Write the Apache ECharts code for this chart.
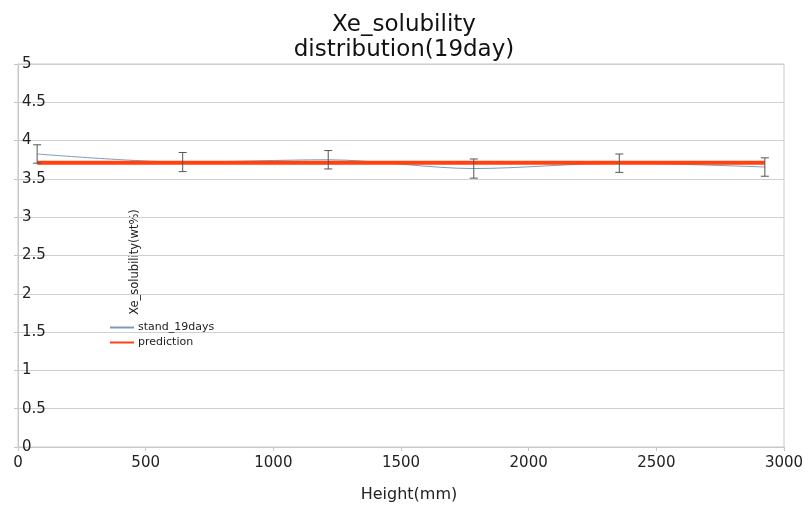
<!DOCTYPE html>
<html>
<head>
<meta charset="utf-8">
<script src="https://cdn.jsdelivr.net/npm/echarts@6/dist/echarts.min.js"></script>
<style>
  html, body { margin: 0; padding: 0; background: #fff; }
  #chart { width: 808px; height: 508px; }
</style>
</head>
<body>
<div id="chart"></div>
<script>
// Measured heights along the column (mm)
var heights = [75, 645, 1215, 1785, 2355, 2925];
// Measured Xe solubility after 19 days (wt%)
var stand19days = [3.825, 3.72, 3.75, 3.635, 3.705, 3.655];
// Measurement uncertainty (± wt%)
var errors = [0.12, 0.125, 0.12, 0.125, 0.12, 0.12];
// Model prediction (wt%)
var prediction = [3.71, 3.71, 3.71, 3.71, 3.71, 3.71];

var xTicks = [0, 500, 1000, 1500, 2000, 2500, 3000];
var yTicks = [0, 0.5, 1, 1.5, 2, 2.5, 3, 3.5, 4, 4.5, 5];

var FONT = '"DejaVu Sans", "Liberation Sans", Arial, sans-serif';
var GRID = { left: 18, right: 24, top: 64, bottom: 61 };

var measured = heights.map(function (h, i) { return [h, stand19days[i]]; });
var predicted = heights.map(function (h, i) { return [h, prediction[i]]; });
var bars = heights.map(function (h, i) {
  return [h, stand19days[i] - errors[i], stand19days[i] + errors[i]];
});

var chart = echarts.init(document.getElementById('chart'));
chart.setOption({
  animation: false,
  backgroundColor: '#ffffff',
  textStyle: { fontFamily: FONT },
  title: {
    text: 'Xe_solubility\ndistribution(19day)',
    left: 'center',
    top: 8,
    textStyle: {
      fontFamily: FONT,
      fontSize: 23,
      fontWeight: 'normal',
      color: '#111',
      lineHeight: 25
    }
  },
  legend: {
    orient: 'vertical',
    left: 105,
    top: 317,
    itemWidth: 24,
    itemHeight: 2,
    itemGap: 4,
    icon: 'rect',
    textStyle: { fontFamily: FONT, fontSize: 11, color: '#222', padding: [0, 0, 0, -1] },
    data: ['stand_19days', 'prediction']
  },
  graphic: [{
    type: 'text',
    x: 135,
    y: 262,
    rotation: Math.PI / 2,
    style: {
      text: 'Xe_solubility(wt%)',
      fontFamily: FONT,
      fontSize: 11.5,
      fill: '#222',
      align: 'center',
      verticalAlign: 'middle'
    }
  }],
  grid: {
    left: GRID.left,
    right: GRID.right,
    top: GRID.top,
    bottom: GRID.bottom,
    show: true,
    borderColor: '#c8c8c8',
    borderWidth: 1
  },
  xAxis: {
    type: 'value',
    min: xTicks[0],
    max: xTicks[xTicks.length - 1],
    interval: 500,
    name: 'Height(mm)',
    nameLocation: 'middle',
    nameGap: 40,
    nameTextStyle: { fontFamily: FONT, fontSize: 16, color: '#222', padding: [0, 0, 0, 16] },
    axisLine: { show: true, lineStyle: { color: '#c8c8c8' } },
    axisTick: { show: true, length: 4, lineStyle: { color: '#c8c8c8' } },
    axisLabel: {
      fontFamily: FONT,
      fontSize: 15,
      color: '#222',
      margin: 9,
      formatter: function (v) { return String(v); }
    },
    splitLine: { show: false }
  },
  yAxis: {
    type: 'value',
    min: yTicks[0],
    max: yTicks[yTicks.length - 1],
    interval: 0.5,
    axisLine: { show: true, lineStyle: { color: '#c8c8c8' } },
    axisTick: { show: true, inside: false, length: 4, lineStyle: { color: '#c8c8c8' } },
    axisLabel: {
      inside: true,
      fontFamily: FONT,
      fontSize: 15,
      color: '#222',
      margin: 4,
      verticalAlign: 'middle',
      formatter: function (v) { return String(v); }
    },
    splitLine: { show: true, lineStyle: { color: '#d0d0d0', width: 1 } }
  },
  series: [
    {
      name: 'stand_19days',
      type: 'line',
      data: measured,
      smooth: 0.3,
      showSymbol: false,
      symbol: 'none',
      lineStyle: { color: '#7b9cc0', width: 1 },
      itemStyle: { color: '#7b9cc0' },
      z: 2
    },
    {
      name: 'prediction',
      type: 'line',
      data: predicted,
      showSymbol: false,
      symbol: 'none',
      lineStyle: { color: '#ff420e', width: 4 },
      itemStyle: { color: '#ff420e' },
      z: 3
    },
    {
      name: 'error',
      type: 'custom',
      data: bars,
      z: 4,
      renderItem: function (params, api) {
        var x = api.value(0);
        var lo = api.coord([x, api.value(1)]);
        var hi = api.coord([x, api.value(2)]);
        var half = 4;
        var style = { stroke: '#555', lineWidth: 1, fill: null };
        return {
          type: 'group',
          children: [
            { type: 'line', shape: { x1: lo[0], y1: lo[1], x2: hi[0], y2: hi[1] }, style: style },
            { type: 'line', shape: { x1: lo[0] - half, y1: lo[1], x2: lo[0] + half, y2: lo[1] }, style: style },
            { type: 'line', shape: { x1: hi[0] - half, y1: hi[1], x2: hi[0] + half, y2: hi[1] }, style: style }
          ]
        };
      }
    }
  ]
});
</script>
</body>
</html>
